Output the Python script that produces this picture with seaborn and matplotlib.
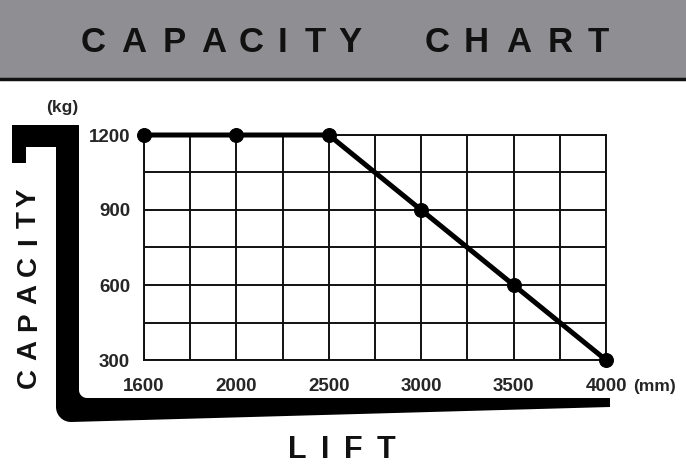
import numpy as np
import pandas as pd
import matplotlib.pyplot as plt
import seaborn as sns
from matplotlib.patches import Polygon, Rectangle

# data
lift_mm = [1600, 2000, 2500, 3000, 3500, 4000]
capacity_kg = [1200, 1200, 1200, 900, 600, 300]
cap_ticks = [300, 600, 900, 1200]
cap_minor = [450, 750, 1050]

df = pd.DataFrame({'pos': np.arange(len(lift_mm)), 'capacity': capacity_kg})

sns.set_style('white')
plt.rcParams['font.family'] = ['Liberation Sans', 'DejaVu Sans']

W, H = 686, 473
fig = plt.figure(figsize=(W / 100, H / 100), dpi=100)

###### background decoration in pixel coords
bg = fig.add_axes([0, 0, 1, 1])
bg.set_xlim(0, W)
bg.set_ylim(H, 0)
bg.axis('off')
bg.add_patch(Rectangle((0, 0), W, 78, color='#8f8e93', lw=0))
bg.plot([0, W], [79, 79], color='#111111', lw=2.5)

def arc(cx, cy, r, a0, a1, n=12):
    t = np.radians(np.linspace(a0, a1, n))
    return list(zip(cx + r * np.cos(t), cy + r * np.sin(t)))

# forklift shaped L
pts = [(12, 125), (79, 125)]
pts += arc(87, 390, 8, 180, 90)
pts += [(610, 398), (610, 407)]
pts += arc(71, 407, 15, 90, 180)
pts += [(56, 147), (26, 147), (26, 163), (12, 163)]
bg.add_patch(Polygon(pts, closed=True, color='black', lw=0))

# letter-spaced titles, one glyph at a time
title_x = [93, 134, 174, 214, 251, 283, 315, 350, 437, 476, 519, 560, 598]
for ch, x in zip('CAPACITYCHART', title_x):
    bg.text(x, 42, ch, ha='center', va='center', fontsize=25,
            fontweight='bold', color='#111111')

ylab_y = [378, 350, 322, 294, 266, 241, 220, 198]
for ch, y in zip('CAPACITY', ylab_y):
    bg.text(29, y, ch, ha='center', va='center', rotation=90, fontsize=20,
            fontweight='bold', color='#111111')

for ch, x in zip('LIFT', [297, 325, 353, 386]):
    bg.text(x, 450, ch, ha='center', va='center', fontsize=22,
            fontweight='bold', color='#111111')

bg.text(62, 107, '(kg)', ha='center', va='center', fontsize=12.5, fontweight='bold')
bg.text(655, 386, '(mm)', ha='center', va='center', fontsize=12.5, fontweight='bold')

###### chart
ax = fig.add_axes([144 / W, 113 / H, 462 / W, 225 / H])
sns.lineplot(data=df, x='pos', y='capacity', color='black', lw=3.6,
             marker='o', markersize=10, markeredgecolor='black', ax=ax,
             zorder=5, clip_on=False)

ax.set_xlim(0, len(lift_mm) - 1)
ax.set_ylim(cap_ticks[0], cap_ticks[-1])
ax.set_xticks(df['pos'])
ax.set_xticklabels(lift_mm)
ax.set_xticks(np.arange(0.5, len(lift_mm) - 1, 1), minor=True)
ax.set_yticks(cap_ticks)
ax.set_yticks(cap_minor, minor=True)
ax.grid(True, which='both', color='#111111', lw=1.4)
ax.tick_params(which='both', length=0)
ax.tick_params(axis='x', pad=13)
ax.tick_params(axis='y', pad=10)
for lab in ax.get_xticklabels() + ax.get_yticklabels():
    lab.set_fontsize(13.5)
    lab.set_fontweight('bold')
for s in ax.spines.values():
    s.set_color('#111111')
    s.set_linewidth(1.4)
ax.set_xlabel('')
ax.set_ylabel('')

fig.savefig('out.png', dpi=100)
